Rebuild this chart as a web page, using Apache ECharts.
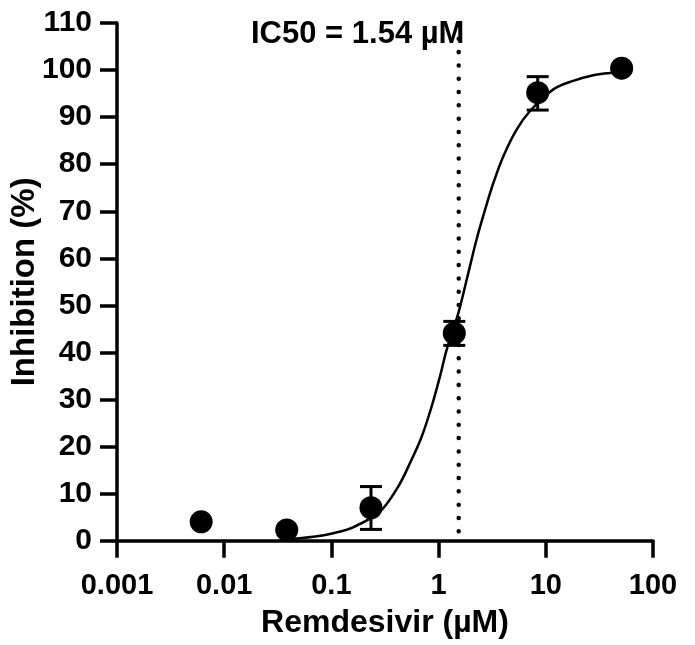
<!DOCTYPE html>
<html>
<head>
<meta charset="utf-8">
<script src="https://cdn.jsdelivr.net/npm/echarts@6/dist/echarts.min.js"></script>
<style>
html,body{margin:0;padding:0;background:#fff;}
#chart{width:695px;height:645px;}
</style>
</head>
<body>
<div id="chart"></div>
<script>
// Measured points: concentration (µM) and inhibition (%)
const concentrations = [0.0061, 0.0383, 0.234, 1.40, 8.4, 51];
const inhibition = [4.0, 2.3, 7.0, 44.1, 95.2, 100.4];
// Error bars (low / high)
const errX = [0.234, 1.40, 8.4];
const errLow = [2.4, 41.5, 91.5];
const errHigh = [11.5, 46.6, 98.6];
// Fitted curve
const curveX = [0.038, 0.068, 0.104, 0.161, 0.284, 0.42, 0.541, 0.695, 0.861, 1.03, 1.19, 1.53, 1.83, 2.26, 2.71, 3.24, 4.02, 5.36, 7.13, 11.75, 18.0, 27.7, 39.7, 51];
const curveY = [0.3, 0.85, 1.6, 2.9, 6.2, 11.5, 16.5, 22.1, 28.5, 34.9, 40.6, 48.4, 55.5, 64.0, 70.3, 76.0, 81.7, 87.4, 91.3, 95.9, 97.7, 98.9, 99.4, 99.6];
// IC50 marker
const ic50 = 1.54;
const ic50LineY = [2, 110];
const ic50Label = 'IC50 = 1.54 µM';
// Axis
const yTicks = [0, 10, 20, 30, 40, 50, 60, 70, 80, 90, 100, 110];
const xTickLabels = ['0.001', '0.01', '0.1', '1', '10', '100'];

const FONT = "'Liberation Sans', Arial, sans-serif";
const chart = echarts.init(document.getElementById('chart'), null, {renderer: 'canvas'});

const axisLineStyle = {color: '#000', width: 3.5};
const option = {
  animation: false,
  backgroundColor: '#fff',
  grid: {left: 117, right: 42, top: 23, bottom: 104.3, containLabel: false, outerBoundsMode: 'none'},
  xAxis: {
    type: 'log', logBase: 10, min: 0.001, max: 100,
    name: 'Remdesivir (µM)', nameLocation: 'middle', nameGap: 66, nameMoveOverlap: false,
    nameTextStyle: {fontFamily: FONT, fontWeight: 'bold', fontSize: 32, color: '#000'},
    axisLine: {show: true, lineStyle: axisLineStyle},
    axisTick: {show: true, inside: false, length: 17, lineStyle: axisLineStyle},
    minorTick: {show: false},
    splitLine: {show: false},
    axisLabel: {
      margin: 31, fontFamily: FONT, fontWeight: 'bold', fontSize: 29, color: '#000',
      formatter: function (v) {
        const i = Math.round(Math.log10(v)) + 3;
        return xTickLabels[i] !== undefined ? xTickLabels[i] : '';
      }
    }
  },
  yAxis: {
    type: 'value', min: yTicks[0], max: yTicks[yTicks.length - 1], interval: 10,
    name: 'Inhibition (%)', nameLocation: 'middle', nameGap: 76, nameMoveOverlap: false,
    nameTextStyle: {fontFamily: FONT, fontWeight: 'bold', fontSize: 33, color: '#000'},
    axisLine: {show: true, lineStyle: axisLineStyle},
    axisTick: {show: true, inside: false, length: 17, lineStyle: axisLineStyle},
    splitLine: {show: false},
    axisLabel: {margin: 25, fontFamily: FONT, fontWeight: 'bold', fontSize: 30, color: '#000'}
  },
  graphic: [{
    type: 'text', left: 251, top: 19, z: 10,
    style: {text: ic50Label, fontFamily: FONT, fontWeight: 'bold', fontSize: 31, fill: '#000'}
  }],
  series: [
    {
      type: 'line', name: 'fit', data: curveX.map((x, i) => [x, curveY[i]]),
      showSymbol: false, smooth: 0.35,
      lineStyle: {color: '#000', width: 2.5}, z: 2, silent: true
    },
    {
      type: 'line', name: 'ic50', data: ic50LineY.map(y => [ic50, y]),
      showSymbol: false,
      lineStyle: {color: '#000', width: 4.5, type: [0.01, 13.3], cap: 'round'}, z: 3, silent: true
    },
    {
      type: 'custom', name: 'err',
      data: errX.map((x, i) => [x, errLow[i], errHigh[i]]),
      encode: {x: 0, y: [1, 2]},
      renderItem: function (params, api) {
        const x = api.value(0);
        const lo = api.coord([x, api.value(1)]);
        const hi = api.coord([x, api.value(2)]);
        const hw = 11;
        const st = {stroke: '#000', lineWidth: 3};
        return {
          type: 'group',
          children: [
            {type: 'line', shape: {x1: lo[0], y1: lo[1], x2: hi[0], y2: hi[1]}, style: st},
            {type: 'line', shape: {x1: lo[0] - hw, y1: lo[1], x2: lo[0] + hw, y2: lo[1]}, style: st},
            {type: 'line', shape: {x1: hi[0] - hw, y1: hi[1], x2: hi[0] + hw, y2: hi[1]}, style: st}
          ]
        };
      },
      z: 4
    },
    {
      type: 'scatter', name: 'data', data: concentrations.map((x, i) => [x, inhibition[i]]),
      symbol: 'circle', symbolSize: 23, itemStyle: {color: '#000', opacity: 1}, z: 5
    }
  ]
};
chart.setOption(option);
</script>
</body>
</html>
